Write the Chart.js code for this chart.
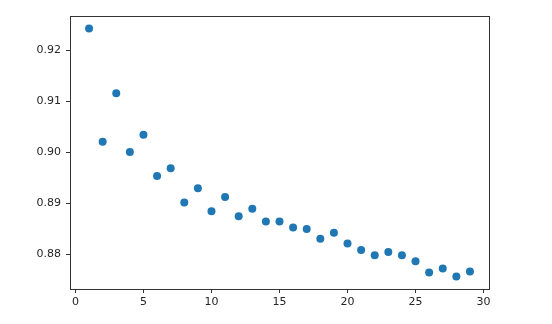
<!DOCTYPE html>
<html>
<head>
<meta charset="utf-8">
<script src="https://cdn.jsdelivr.net/npm/chart.js@4/dist/chart.umd.min.js"></script>
<style>
html, body { margin: 0; padding: 0; background: #fff; }
#wrap { width: 552px; height: 324px; position: relative; }
</style>
</head>
<body>
<div id="wrap"><canvas id="c" width="552" height="324"></canvas></div>
<script>
const xValues = [1, 2, 3, 4, 5, 6, 7, 8, 9, 10, 11, 12, 13, 14, 15, 16, 17, 18, 19, 20, 21, 22, 23, 24, 25, 26, 27, 28, 29];
const yValues = [0.9243, 0.9021, 0.9116, 0.9001, 0.9035, 0.8954, 0.8969, 0.8902, 0.8930, 0.8885,
                 0.8913, 0.8875, 0.8890, 0.8865, 0.8865, 0.8853, 0.8850, 0.8831, 0.8843, 0.8822,
                 0.8809, 0.8799, 0.8805, 0.8799, 0.8787, 0.8765, 0.8773, 0.8757, 0.8767];
const xTickValues = [0, 5, 10, 15, 20, 25, 30];
const yTickValues = [0.88, 0.89, 0.90, 0.91, 0.92];

const points = xValues.map((x, i) => ({ x: x, y: yValues[i] }));

const xmin = Math.min(...xValues), xmax = Math.max(...xValues);
const ymin = Math.min(...yValues), ymax = Math.max(...yValues);
const xm = (xmax - xmin) * 0.05, ym = (ymax - ymin) * 0.05;

const framePlugin = {
  id: 'frame',
  afterDraw(chart) {
    const a = chart.chartArea, ctx = chart.ctx;
    ctx.save();
    ctx.strokeStyle = '#333';
    ctx.lineWidth = 1;
    ctx.strokeRect(Math.round(a.left) + 0.5, Math.round(a.top) + 0.5,
                   Math.round(a.right - a.left), Math.round(a.bottom - a.top));
    ctx.restore();
  }
};

const tickFont = { family: 'DejaVu Sans', size: 11 };

new Chart(document.getElementById('c'), {
  type: 'scatter',
  data: {
    datasets: [{
      data: points,
      backgroundColor: '#1f77b4',
      borderColor: '#1f77b4',
      pointRadius: 4,
      pointHoverRadius: 4,
      borderWidth: 0
    }]
  },
  options: {
    responsive: false,
    animation: false,
    events: [],
    layout: { padding: { top: 16, right: 63, left: 0, bottom: 0 } },
    plugins: { legend: { display: false }, tooltip: { enabled: false } },
    scales: {
      x: {
        type: 'linear',
        min: xmin - xm,
        max: xmax + xm,
        afterFit(s) { s.height = 35; },
        afterBuildTicks(s) { s.ticks = xTickValues.map(v => ({ value: v })); },
        ticks: { font: tickFont, color: '#262626', padding: 3, maxRotation: 0,
                 callback: v => String(v) },
        grid: { display: true, drawOnChartArea: false, tickLength: 4, tickColor: '#333', tickWidth: 1 },
        border: { display: false }
      },
      y: {
        type: 'linear',
        min: ymin - ym,
        max: ymax + ym,
        afterFit(s) { s.width = 70; },
        afterBuildTicks(s) { s.ticks = yTickValues.map(v => ({ value: v })); },
        ticks: { font: tickFont, color: '#262626', padding: 5,
                 callback: v => Number(v).toFixed(2) },
        grid: { display: true, drawOnChartArea: false, tickLength: 4, tickColor: '#333', tickWidth: 1 },
        border: { display: false }
      }
    }
  },
  plugins: [framePlugin]
});
</script>
</body>
</html>
